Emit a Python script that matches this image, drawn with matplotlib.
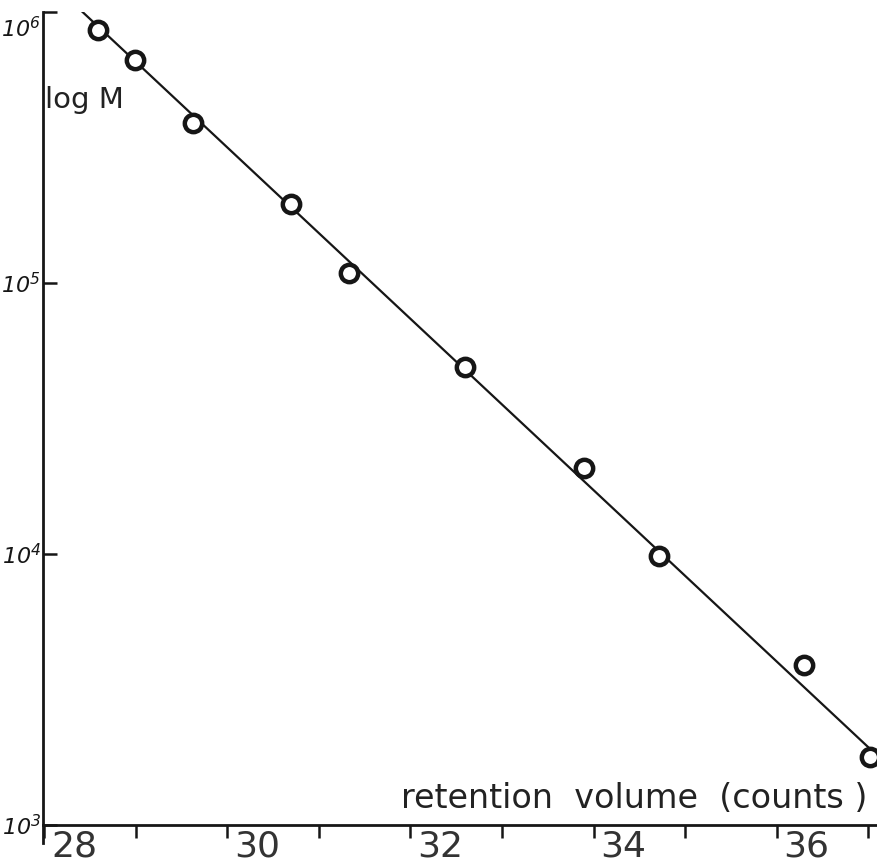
import matplotlib
matplotlib.use('Agg')
import matplotlib.pyplot as plt
from matplotlib.transforms import ScaledTranslation
import numpy as np

# calibration standards: retention volume (counts) vs molecular weight
volume = [28.58, 28.99, 29.62, 30.69, 31.33, 32.60, 33.90, 34.72, 36.30, 37.02]
mol_weight = [8.6e5, 6.65e5, 3.9e5, 1.96e5, 1.09e5, 4.9e4, 2.08e4, 9.8e3, 3.9e3, 1.78e3]

# fitted calibration line, log M = a + b * V
fit_intercept = 14.98
fit_slope = -0.316
fit_range = [28.38, 37.3]

x_major = [28, 30, 32, 34, 36]
x_minor = [29, 31, 33, 35, 37]
y_major = [1e3, 1e4, 1e5, 1e6]
y_labels = [r'$10^{3}$', r'$10^{4}$', r'$10^{5}$', r'$10^{6}$']

# slanted, hand-lettered look for the powers of ten
plt.rcParams['mathtext.fontset'] = 'custom'
plt.rcParams['mathtext.rm'] = 'DejaVu Sans:italic'
plt.rcParams['mathtext.it'] = 'DejaVu Sans:italic'

ink = '#161616'

fig = plt.figure(figsize=(8.77, 8.63), dpi=100)
ax = fig.add_axes([0.049, 0.044, 0.951, 0.942])

v = np.array(fit_range)
ax.plot(v, 10 ** (fit_intercept + fit_slope * v), color=ink, lw=1.6, zorder=2)
ax.plot(volume, mol_weight, 'o', ms=12.5, mfc='white', mec=ink, mew=3.2,
        zorder=3, clip_on=False)

ax.set_yscale('log')
ax.set_xlim(27.984, 37.098)
ax.set_ylim(1e3, 1e6)

for side in ['top', 'right']:
    ax.spines[side].set_visible(False)
for side in ['left', 'bottom']:
    ax.spines[side].set_linewidth(2.0)
    ax.spines[side].set_color(ink)
ax.spines['left'].set_bounds(10 ** 2.935, 1e6)

ax.set_xticks(x_major)
ax.set_xticks(x_minor, minor=True)
ax.set_xticklabels([str(t) for t in x_major])
ax.tick_params(axis='x', which='both', direction='out', length=9, width=1.8,
               color=ink, labelsize=26, pad=-6, labelcolor='#333333')
for lab in ax.get_xticklabels():
    lab.set_horizontalalignment('left')
    lab.set_transform(lab.get_transform() +
                      ScaledTranslation(5 / 72, 0, fig.dpi_scale_trans))

ax.set_yticks(y_major)
ax.set_yticklabels(y_labels)
ax.yaxis.set_minor_locator(matplotlib.ticker.NullLocator())
ax.tick_params(axis='y', which='major', direction='in', length=10, width=1.8,
               color=ink, labelsize=16, pad=1.5, labelcolor=ink)
ylabs = ax.get_yticklabels()
ylabs[-1].set_verticalalignment('top')
ylabs[-1].set_transform(ylabs[-1].get_transform() +
                        ScaledTranslation(0, -3 / 72, fig.dpi_scale_trans))

ax.text(0.003, 0.892, 'log M', transform=ax.transAxes, fontsize=21,
        color='#222222', ha='left', va='center')
ax.text(0.988, 0.012, 'retention  volume  (counts )', transform=ax.transAxes,
        fontsize=24, color='#222222', ha='right', va='bottom')

fig.savefig('out.png', dpi=100, facecolor='white')
